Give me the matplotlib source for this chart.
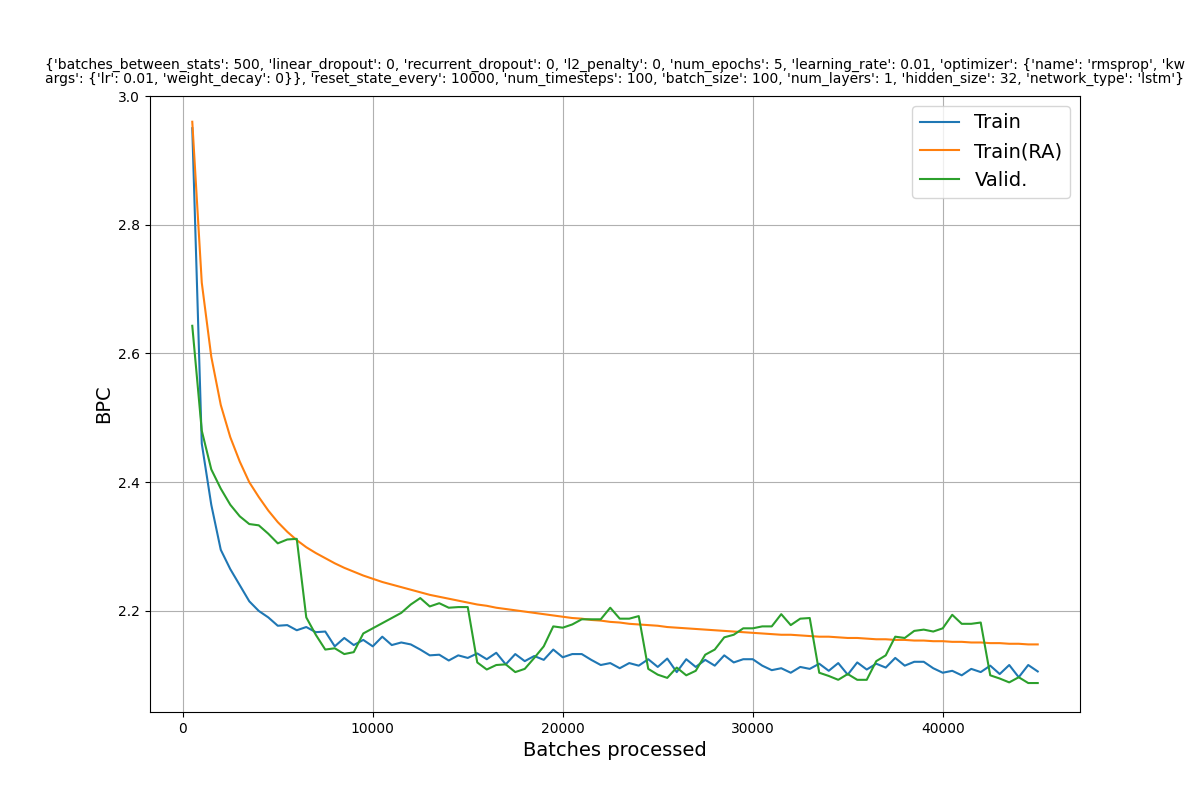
import matplotlib
matplotlib.use('Agg')
import matplotlib.pyplot as plt

batches = list(range(500, 45001, 500))

train = [2.95, 2.46, 2.365, 2.295, 2.265, 2.24, 2.215, 2.2, 2.19, 2.177,
         2.178, 2.17, 2.175, 2.167, 2.168, 2.145, 2.158, 2.147, 2.155, 2.145,
         2.16, 2.147, 2.151, 2.148, 2.14, 2.131, 2.132, 2.123, 2.131, 2.127,
         2.134, 2.125, 2.135, 2.117, 2.133, 2.122, 2.13, 2.124, 2.14, 2.128,
         2.133, 2.133, 2.124, 2.116, 2.119, 2.111, 2.119, 2.115, 2.125, 2.113,
         2.126, 2.105, 2.125, 2.113, 2.124, 2.115, 2.131, 2.12, 2.125, 2.125,
         2.115, 2.108, 2.111, 2.104, 2.113, 2.11, 2.118, 2.107, 2.119, 2.101,
         2.12, 2.109, 2.118, 2.112, 2.127, 2.115, 2.121, 2.121, 2.111, 2.104,
         2.107, 2.1, 2.11, 2.105, 2.115, 2.102, 2.116, 2.097, 2.116, 2.106]

train_ra = [2.96, 2.71, 2.595, 2.52, 2.47, 2.432, 2.4, 2.377, 2.356, 2.338,
            2.323, 2.31, 2.299, 2.29, 2.282, 2.274, 2.267, 2.261, 2.255, 2.25,
            2.245, 2.241, 2.237, 2.233, 2.229, 2.225, 2.222, 2.219, 2.216, 2.213,
            2.21, 2.208, 2.205, 2.203, 2.201, 2.199, 2.197, 2.195, 2.193, 2.191,
            2.189, 2.188, 2.186, 2.185, 2.183, 2.182, 2.18, 2.179, 2.178, 2.177,
            2.175, 2.174, 2.173, 2.172, 2.171, 2.17, 2.169, 2.168, 2.167, 2.166,
            2.165, 2.164, 2.163, 2.163, 2.162, 2.161, 2.16, 2.16, 2.159, 2.158,
            2.158, 2.157, 2.156, 2.156, 2.155, 2.155, 2.154, 2.154, 2.153, 2.153,
            2.152, 2.152, 2.151, 2.151, 2.15, 2.15, 2.149, 2.149, 2.148, 2.148]

valid = [2.643, 2.48, 2.42, 2.39, 2.365, 2.347, 2.335, 2.333, 2.32, 2.305,
         2.311, 2.312, 2.19, 2.163, 2.14, 2.142, 2.133, 2.136, 2.165, 2.173,
         2.181, 2.189, 2.197, 2.21, 2.22, 2.207, 2.212, 2.205, 2.206, 2.206,
         2.12, 2.109, 2.116, 2.117, 2.105, 2.11, 2.127, 2.145, 2.176, 2.174,
         2.179, 2.187, 2.187, 2.187, 2.205, 2.188, 2.188, 2.192, 2.11, 2.101,
         2.096, 2.112, 2.1, 2.107, 2.132, 2.14, 2.159, 2.163, 2.173, 2.173,
         2.176, 2.176, 2.195, 2.178, 2.188, 2.189, 2.104, 2.099, 2.093, 2.102,
         2.093, 2.093, 2.122, 2.131, 2.16, 2.158, 2.169, 2.171, 2.168, 2.173,
         2.194, 2.18, 2.18, 2.182, 2.1, 2.095, 2.089, 2.097, 2.088, 2.088]

title = ("{'batches_between_stats': 500, 'linear_dropout': 0, 'recurrent_dropout': 0, "
         "'l2_penalty': 0, 'num_epochs': 5, 'learning_rate': 0.01, 'optimizer': "
         "{'name': 'rmsprop', 'kw\nargs': {'lr': 0.01, 'weight_decay': 0}}, "
         "'reset_state_every': 10000, 'num_timesteps': 100, 'batch_size': 100, "
         "'num_layers': 1, 'hidden_size': 32, 'network_type': 'lstm'}")

fig = plt.figure(figsize=(12, 8), dpi=100)
ax = fig.add_axes([0.125, 0.11, 0.775, 0.77])
ax.plot(batches, train, label='Train')
ax.plot(batches, train_ra, label='Train(RA)')
ax.plot(batches, valid, label='Valid.')
ax.set_ylim(2.043, 3.0)
ax.set_yticks([2.2, 2.4, 2.6, 2.8, 3.0])
ax.grid(True)
ax.set_xlabel('Batches processed', fontsize=14)
ax.set_ylabel('BPC', fontsize=14)
ax.legend(fontsize=14, loc='upper right')
fig.text(45 / 1200, 1 - 58 / 800, title, ha='left', va='top', fontsize=10,
         linespacing=1.0)

plt.savefig('out.png', dpi=100)
